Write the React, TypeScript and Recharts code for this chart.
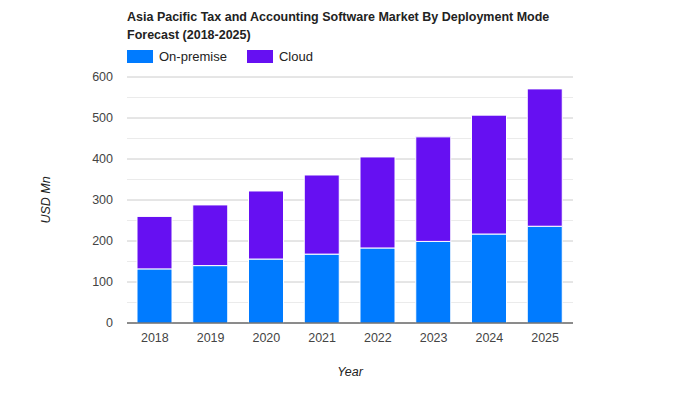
import React from "react";
import {
  BarChart,
  Bar,
  XAxis,
  YAxis,
  CartesianGrid,
} from "recharts";

// Values (USD Mn)
const years = ["2018", "2019", "2020", "2021", "2022", "2023", "2024", "2025"];
const onPremise = [132, 140, 156, 168, 183, 199, 217, 236];
const cloud = [128, 148, 166, 193, 222, 255, 290, 335];
const yTicks = [0, 100, 200, 300, 400, 500, 600];
const minorTicks = [50, 150, 250, 350, 450, 550];

const COLORS = { onPremise: "#007bff", cloud: "#6610f2" };
const FONT = '"Liberation Sans", Arial, sans-serif';

const chartData = years.map((year, i) => ({
  year,
  onPremise: onPremise[i],
  cloud: cloud[i],
}));

const App: React.FC = () => {
  return (
    <div
      style={{
        position: "absolute",
        left: 0,
        top: 0,
        width: 700,
        height: 400,
        background: "#fff",
        fontFamily: FONT,
      }}
    >
      {/* Title */}
      <div
        style={{
          position: "absolute",
          left: 127,
          top: 8,
          fontSize: 12.5,
          fontWeight: "bold",
          color: "#222",
          lineHeight: "18px",
        }}
      >
        Asia Pacific Tax and Accounting Software Market By Deployment Mode
        <br />
        Forecast (2018-2025)
      </div>

      {/* Legend */}
      <div
        style={{
          position: "absolute",
          left: 127,
          top: 49,
          display: "flex",
          alignItems: "center",
          fontSize: 13,
          color: "#222",
        }}
      >
        <span style={{ width: 26, height: 13, background: COLORS.onPremise, display: "inline-block" }} />
        <span style={{ marginLeft: 6, marginRight: 20 }}>On-premise</span>
        <span style={{ width: 26, height: 13, background: COLORS.cloud, display: "inline-block" }} />
        <span style={{ marginLeft: 6 }}>Cloud</span>
      </div>

      <BarChart
        width={700}
        height={400}
        data={chartData}
        margin={{ top: 77, right: 127, bottom: 47, left: 67 }}
        barSize={35}
      >
        <CartesianGrid
          vertical={false}
          stroke="#ebebeb"
          horizontalValues={minorTicks}
        />
        <CartesianGrid vertical={false} stroke="#cccccc" />
        <XAxis
          dataKey="year"
          height={30}
          tickLine={false}
          axisLine={{ stroke: "#333", strokeWidth: 1 }}
          tickMargin={4}
          tick={{ fontSize: 12.5, fill: "#444", fontFamily: FONT }}
        />
        <YAxis
          width={60}
          domain={[0, 600]}
          ticks={yTicks}
          axisLine={false}
          tickLine={false}
          tickMargin={8}
          tick={{ fontSize: 12.5, fill: "#444", fontFamily: FONT }}
        />
        <Bar
          dataKey="onPremise"
          stackId="a"
          fill={COLORS.onPremise}
          stroke="#fff"
          strokeWidth={1}
          isAnimationActive={false}
        />
        <Bar
          dataKey="cloud"
          stackId="a"
          fill={COLORS.cloud}
          stroke="#fff"
          strokeWidth={1}
          isAnimationActive={false}
        />
      </BarChart>

      {/* Axis titles */}
      <div
        style={{
          position: "absolute",
          left: 350,
          top: 372,
          transform: "translate(-50%, -50%)",
          fontSize: 12.5,
          fontStyle: "italic",
          color: "#222",
        }}
      >
        Year
      </div>
      <div
        style={{
          position: "absolute",
          left: 46,
          top: 200,
          transform: "translate(-50%, -50%) rotate(-90deg)",
          fontSize: 12.5,
          fontStyle: "italic",
          color: "#222",
          whiteSpace: "nowrap",
        }}
      >
        USD Mn
      </div>
    </div>
  );
};

export default App;
